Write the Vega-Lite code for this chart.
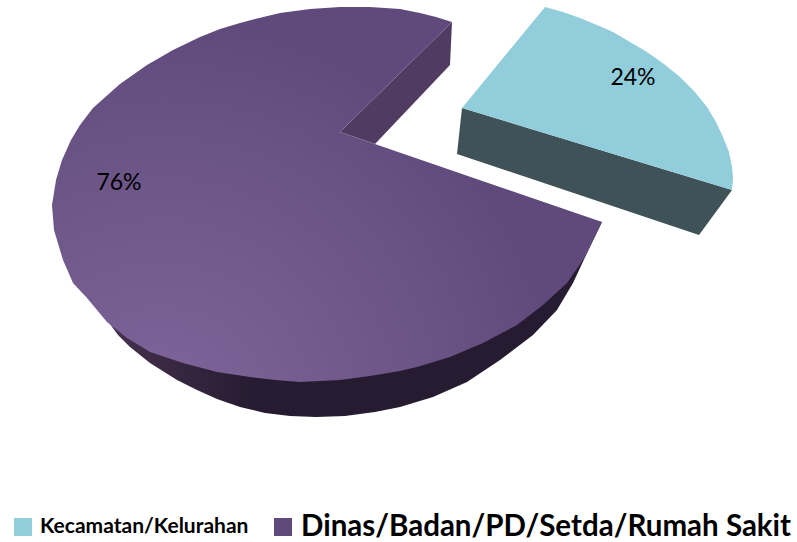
{"$schema":"https://vega.github.io/schema/vega-lite/v6.json","width":797,"height":542,"padding":0,"autosize":{"type":"fit","contains":"padding"},"background":"white","config":{"view":{"stroke":null}},
"datasets":{
"sideWall":[{"x":107,"y":320},{"x":118,"y":335},{"x":130,"y":347},{"x":150,"y":363},{"x":177,"y":380},{"x":197,"y":390},{"x":217,"y":399},{"x":240,"y":407},{"x":265,"y":413},{"x":290,"y":416},{"x":316,"y":417},{"x":345,"y":416},{"x":375,"y":412},{"x":400,"y":407},{"x":433,"y":397},{"x":467,"y":382},{"x":500,"y":360},{"x":533,"y":335},{"x":557,"y":310},{"x":573,"y":283},{"x":587,"y":253},{"x":602,"y":222},{"x":300,"y":200}],
"innerWall":[{"x":340,"y":132},{"x":452,"y":22},{"x":450,"y":65},{"x":375,"y":144}],
"face":[{"x":340,"y":132},{"x":452,"y":22},{"x":436,"y":17},{"x":420,"y":13},{"x":400,"y":9},{"x":370,"y":7},{"x":340,"y":7},{"x":310,"y":9},{"x":280,"y":13},{"x":255,"y":19},{"x":240,"y":23},{"x":220,"y":29},{"x":200,"y":37},{"x":173,"y":50},{"x":147,"y":65},{"x":120,"y":84},{"x":93,"y":108},{"x":80,"y":125},{"x":71,"y":140},{"x":62,"y":160},{"x":56,"y":180},{"x":52,"y":205},{"x":54,"y":230},{"x":63,"y":260},{"x":73,"y":283},{"x":87,"y":298},{"x":107,"y":322},{"x":127,"y":338},{"x":150,"y":352},{"x":183,"y":363},{"x":217,"y":372},{"x":250,"y":377},{"x":275,"y":380},{"x":300,"y":382},{"x":340,"y":380},{"x":370,"y":376},{"x":400,"y":371},{"x":417,"y":367},{"x":450,"y":357},{"x":483,"y":343},{"x":517,"y":325},{"x":543,"y":305},{"x":567,"y":283},{"x":585,"y":257},{"x":602,"y":222},{"x":340,"y":132}],
"blueWall":[{"x":462,"y":108},{"x":732,"y":190},{"x":699,"y":235},{"x":457,"y":154}],
"blueFace":[{"x":462,"y":108},{"x":545,"y":7},{"x":563,"y":12},{"x":580,"y":18},{"x":597,"y":25},{"x":613,"y":32},{"x":630,"y":42},{"x":647,"y":52},{"x":664,"y":64},{"x":680,"y":77},{"x":694,"y":91},{"x":707,"y":107},{"x":716,"y":122},{"x":723,"y":137},{"x":729,"y":152},{"x":732,"y":167},{"x":733,"y":178},{"x":732,"y":190}],
"pct":[{"x":633,"y":78,"share":"Kecamatan/Kelurahan","label":"24%"},{"x":119,"y":183,"share":"Dinas/Badan/PD/Setda/Rumah Sakit","label":"76%"}],
"legend":[{"x":23,"y":527,"tx":40,"name":"Kecamatan/Kelurahan"},{"x":283,"y":527,"tx":301,"name":"Dinas/Badan/PD/Setda/Rumah Sakit"}]
},
"encoding":{"x":{"field":"x","type":"quantitative","scale":{"domain":[0,797]},"axis":null},"y":{"field":"y","type":"quantitative","scale":{"domain":[542,0]},"axis":null}},
"layer":[
{"data":{"name":"sideWall"},"transform":[{"window":[{"op":"row_number","as":"i"}]}],"mark":{"type":"line","strokeWidth":0,"fill":{"gradient":"linear","x1":0,"y1":0,"x2":1,"y2":0,"stops":[{"offset":0,"color":"#46324F"},{"offset":0.3,"color":"#261B30"},{"offset":1,"color":"#261B30"}]}},"encoding":{"order":{"field":"i","type":"quantitative"}}},
{"data":{"name":"innerWall"},"transform":[{"window":[{"op":"row_number","as":"i"}]}],"mark":{"type":"line","strokeWidth":0,"fill":"#503C63"},"encoding":{"order":{"field":"i","type":"quantitative"}}},
{"data":{"name":"face"},"transform":[{"window":[{"op":"row_number","as":"i"}]}],"mark":{"type":"line","strokeWidth":0,"fill":{"gradient":"radial","x1":0.2,"y1":0.9,"r1":0,"x2":0.2,"y2":0.9,"r2":0.72,"stops":[{"offset":0,"color":"#80669B"},{"offset":0.45,"color":"#725A8D"},{"offset":1,"color":"#604A7B"}]}},"encoding":{"order":{"field":"i","type":"quantitative"}}},
{"data":{"name":"blueWall"},"transform":[{"window":[{"op":"row_number","as":"i"}]}],"mark":{"type":"line","strokeWidth":0,"fill":"#3E5258"},"encoding":{"order":{"field":"i","type":"quantitative"}}},
{"data":{"name":"blueFace"},"transform":[{"window":[{"op":"row_number","as":"i"}]}],"mark":{"type":"line","strokeWidth":0,"fill":"#92CDDC"},"encoding":{"order":{"field":"i","type":"quantitative"}}},
{"data":{"name":"pct"},"mark":{"type":"text","font":"Lato","fontSize":23,"color":"#000000","align":"center","baseline":"middle"},"encoding":{"text":{"field":"label"}}},
{"data":{"name":"legend"},"mark":{"type":"point","shape":"square","filled":true,"size":324,"opacity":1},"encoding":{"color":{"field":"name","type":"nominal","scale":{"domain":["Kecamatan/Kelurahan","Dinas/Badan/PD/Setda/Rumah Sakit"],"range":["#92CDDC","#604A7B"]},"legend":null}}},
{"data":{"name":"legend"},"transform":[{"filter":"datum.tx==40"}],"mark":{"type":"text","font":"Lato","fontWeight":"bold","fontSize":21,"color":"#000000","align":"left","baseline":"middle"},"encoding":{"x":{"field":"tx","type":"quantitative"},"text":{"field":"name"}}},
{"data":{"name":"legend"},"transform":[{"filter":"datum.tx==301"}],"mark":{"type":"text","font":"Lato","fontWeight":"bold","fontSize":29.5,"color":"#000000","align":"left","baseline":"middle"},"encoding":{"x":{"field":"tx","type":"quantitative"},"text":{"field":"name"}}}
]}
